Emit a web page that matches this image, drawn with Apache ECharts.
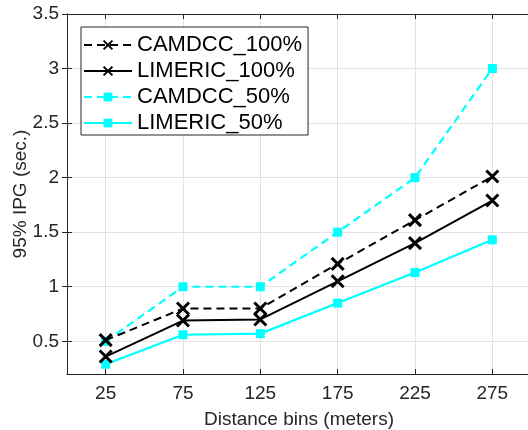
<!DOCTYPE html>
<html>
<head>
<meta charset="utf-8">
<script src="https://cdn.jsdelivr.net/npm/echarts@6/dist/echarts.min.js"></script>
<style>
html,body{margin:0;padding:0;background:#fff;}
#c{width:528px;height:430px;}
</style>
</head>
<body>
<div id="c"></div>
<script>
var distanceBins = [25, 75, 125, 175, 225, 275];
var yTicks = [0.5, 1, 1.5, 2, 2.5, 3, 3.5];
var camdcc100 = [0.51, 0.80, 0.80, 1.21, 1.61, 2.01];
var limeric100 = [0.36, 0.69, 0.70, 1.05, 1.40, 1.79];
var camdcc50 = [0.50, 1.00, 1.00, 1.50, 2.00, 3.00];
var limeric50 = [0.29, 0.56, 0.57, 0.85, 1.13, 1.43];

function pairs(vals){ return distanceBins.map(function(x,i){ return [x, vals[i]]; }); }

var crossPath = 'path://M0,0L10,10M10,0L0,10';
var axisCol = '#262626';
var gridCol = '#e3e3e3';
var font = 'Liberation Sans, Arial, sans-serif';

var chart = echarts.init(document.getElementById('c'), null, {renderer:'canvas'});
chart.setOption({
  animation:false,
  backgroundColor:'#fff',
  grid:{left:67, top:14, width:464, height:360, containLabel:false, outerBoundsMode:'none'},
  legend:{
    orient:'vertical', left:81, top:27,
    backgroundColor:'#fff', borderColor:axisCol, borderWidth:1, borderRadius:0,
    padding:[7,6,1,2], itemGap:4, itemWidth:48, itemHeight:11,
    textStyle:{fontSize:22, color:'#000', fontFamily:font},
    data:['CAMDCC_100%','LIMERIC_100%','CAMDCC_50%','LIMERIC_50%']
  },
  xAxis:[{
    type:'value', min:0, max:300, position:'bottom',
    name:'Distance bins (meters)', nameLocation:'middle', nameGap:36, nameMoveOverlap:false,
    nameTextStyle:{fontSize:19, color:axisCol, fontFamily:font},
    axisLine:{show:true, lineStyle:{color:axisCol, width:1}},
    axisTick:{show:true, inside:true, length:5, lineStyle:{color:axisCol}, customValues:distanceBins},
    axisLabel:{fontSize:19, color:axisCol, fontFamily:font, margin:10, customValues:distanceBins},
    splitLine:{show:true, lineStyle:{color:gridCol, width:1}}
  },{
    type:'value', min:0, max:300, position:'top',
    axisLine:{show:true, lineStyle:{color:axisCol, width:1}},
    axisTick:{show:true, inside:true, length:5, lineStyle:{color:axisCol}, customValues:distanceBins},
    axisLabel:{show:false, customValues:distanceBins},
    splitLine:{show:false}
  }],
  yAxis:[{
    type:'value', min:0.2, max:3.5, position:'left',
    name:'95% IPG (sec.)', nameLocation:'middle', nameGap:37, nameMoveOverlap:false,
    nameTextStyle:{fontSize:19, color:axisCol, fontFamily:font},
    axisLine:{show:true, lineStyle:{color:axisCol, width:1}},
    axisTick:{show:true, inside:true, length:5, lineStyle:{color:axisCol}, customValues:yTicks},
    axisLabel:{fontSize:19, color:axisCol, fontFamily:font, margin:8, customValues:yTicks},
    splitLine:{show:true, lineStyle:{color:gridCol, width:1}}
  },{
    type:'value', min:0.2, max:3.5, position:'right',
    axisLine:{show:true, lineStyle:{color:axisCol, width:1}},
    axisTick:{show:true, inside:true, length:5, lineStyle:{color:axisCol}, customValues:yTicks},
    axisLabel:{show:false, customValues:yTicks},
    splitLine:{show:false}
  }],
  series:[
    {name:'CAMDCC_100%', type:'line', data:pairs(camdcc100), symbol:crossPath, symbolSize:12,
     lineStyle:{color:'#000', width:2, type:[8,5]},
     itemStyle:{color:'#000', borderColor:'#000', borderWidth:3}, z:4},
    {name:'LIMERIC_100%', type:'line', data:pairs(limeric100), symbol:crossPath, symbolSize:12,
     lineStyle:{color:'#000', width:2, type:'solid'},
     itemStyle:{color:'#000', borderColor:'#000', borderWidth:3}, z:4},
    {name:'CAMDCC_50%', type:'line', data:pairs(camdcc50), symbol:'rect', symbolSize:9,
     lineStyle:{color:'#00ffff', width:2.2, type:[8,5]},
     itemStyle:{color:'#00ffff', borderWidth:0}, z:3},
    {name:'LIMERIC_50%', type:'line', data:pairs(limeric50), symbol:'rect', symbolSize:9,
     lineStyle:{color:'#00ffff', width:2.2, type:'solid'},
     itemStyle:{color:'#00ffff', borderWidth:0}, z:3}
  ]
});
</script>
</body>
</html>
